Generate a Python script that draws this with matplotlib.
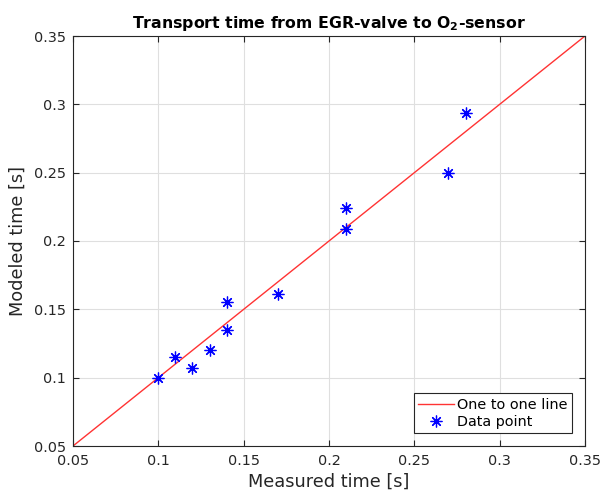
import numpy as np
import matplotlib.pyplot as plt

measured = [0.10, 0.11, 0.12, 0.13, 0.14, 0.14, 0.17, 0.21, 0.21, 0.27, 0.28]
modeled = [0.0998, 0.1151, 0.1071, 0.1202, 0.1349, 0.1554, 0.1612, 0.2088, 0.2241, 0.2498, 0.2933]
line_x = [0.05, 0.35]

fig = plt.figure(figsize=(6.02, 4.98), dpi=100)
ax = fig.add_axes([73 / 602, 52 / 498, 512 / 602, 410 / 498])

ax.plot(line_x, line_x, color='#ff3333', lw=1, label='One to one line')
ax.plot(measured, modeled, ls='none', marker=(8, 2, 0), color='blue', ms=8.5,
        mew=0.9, label='Data point')

ticks = [0.05, 0.1, 0.15, 0.2, 0.25, 0.3, 0.35]
labels = ['0.05', '0.1', '0.15', '0.2', '0.25', '0.3', '0.35']
ax.set_xlim(0.05, 0.35)
ax.set_ylim(0.05, 0.35)
ax.set_xticks(ticks, labels)
ax.set_yticks(ticks, labels)
ax.tick_params(direction='in', top=True, right=True, labelsize=10.4, length=4,
               colors='#262626')
ax.tick_params(axis='x', pad=6)
ax.tick_params(axis='y', pad=5)
ax.grid(True, color='#dfdfdf', lw=0.8)
ax.set_axisbelow(True)
for s in ax.spines.values():
    s.set_color('#262626')
    s.set_linewidth(0.8)

ax.set_xlabel('Measured time [s]', fontsize=12.8, color='#262626', labelpad=3)
ax.set_ylabel('Modeled time [s]', fontsize=12.8, color='#262626', labelpad=5)
ax.set_title('Transport time from EGR-valve to O$_\\mathbf{2}$-sensor',
             fontsize=11.3, fontweight='bold', pad=6)

leg = ax.legend(loc='lower right', fontsize=10.4, fancybox=False, framealpha=1,
                edgecolor='#262626', borderpad=0.3, handlelength=2.5,
                handletextpad=0.2, labelspacing=0.2, borderaxespad=0.9)
leg.get_frame().set_linewidth(0.8)

plt.savefig('out.png', dpi=100)
